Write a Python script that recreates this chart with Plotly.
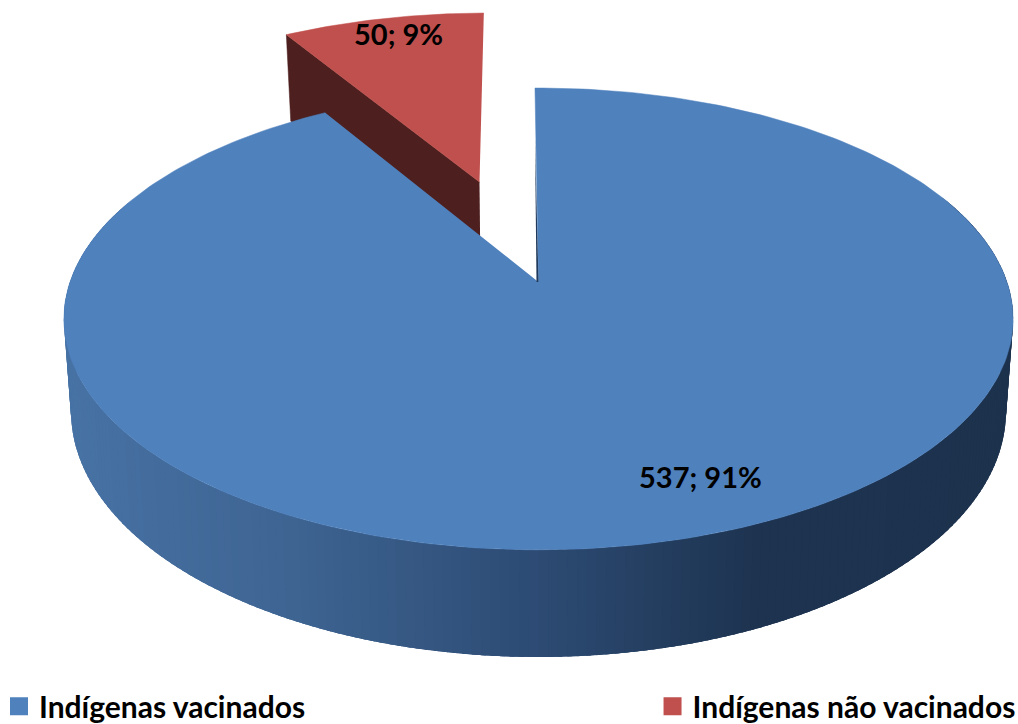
import numpy as np
import plotly.graph_objects as go

categories = ["Indígenas vacinados", "Indígenas não vacinados"]
values = [537, 50]
percent_labels = ["91%", "9%"]
top_colors = ["#4f81bd", "#c0504d"]
red_side_color = "#4d1f1e"

# projection of the flat pie disc onto the page (pixel axes)
CX, CY, A, B, K = 538.5, 282.0, 468.5, 225.0, 0.16
DEPTH = 90.0
TILT = -0.5
EXPLODE = 0.497
WALL_STOPS_X = [70, 300, 550, 750, 1010]
WALL_STOPS_RGB = [(72, 115, 165), (62, 100, 146), (44, 74, 114), (30, 52, 81), (29, 50, 77)]


def project(u, v, depth=0.0):
    u, v = np.asarray(u, float), np.asarray(v, float)
    w = 1 - K * v
    s = 1 - 0.015 * depth / DEPTH
    return CX + A * u * s / w, CY + (B * v + depth) / w


def rim(a0, a1, n, off=(0.0, 0.0)):
    t = np.radians(np.linspace(a0, a1, n))
    return np.sin(t) + off[0], -np.cos(t) + off[1]


total = sum(values)
blue_end = TILT + 360 * values[0] / total
red_start = blue_end - 360
red_mid = np.radians((red_start + TILT) / 2)
off = (EXPLODE * np.sin(red_mid), -EXPLODE * np.cos(red_mid))

fig = go.Figure()


def poly(x, y, color, width=0.0):
    fig.add_trace(go.Scatter(
        x=list(x), y=list(y), mode="lines", fill="toself", fillcolor=color,
        line=dict(color=color, width=width), hoverinfo="skip", showlegend=False,
    ))


# red slice: inner side then top
ru, rv = rim(red_start, TILT, 40, off)
ax0, ay0 = project(off[0], off[1])
ax1, ay1 = project(off[0], off[1], 105)
lx0, ly0 = project(ru[0], rv[0])
lx1, ly1 = project(ru[0], rv[0], 105)
poly([ax0, lx0, lx1, ax1], [ay0, ly0, ly1, ay1], red_side_color, 0.5)
rx, ry = project(ru, rv)
poly(np.r_[ax0, rx], np.r_[ay0, ry], top_colors[1], 0.5)

# blue outer wall as shaded strips, painted left to right so each overlaps the last
edges = np.linspace(292, 68, 225)
step = edges[0] - edges[1]
for a0 in edges[:-1]:
    u, v = rim(a0, a0 - 2.5 * step, 5)
    xt, yt = project(u, v)
    xb, yb = project(u[::-1], v[::-1], DEPTH)
    mid = project(np.sin(np.radians(a0 - step / 2)), -np.cos(np.radians(a0 - step / 2)), DEPTH)[0]
    rgb = [np.interp(mid, WALL_STOPS_X, [c[i] for c in WALL_STOPS_RGB]) for i in range(3)]
    col = "rgb(%d,%d,%d)" % tuple(rgb)
    poly(np.r_[xt, xb], np.r_[yt, yb], col, 0)

# blue top
bu, bv = rim(TILT, blue_end, 300)
bx, by = project(bu, bv)
poly(np.r_[CX, bx], np.r_[CY, by], top_colors[0], 0.5)

# thin dark edge of the notch
ex, ey = project(bu[0], bv[0])
poly([CX - 2, CX, ex], [CY, CY, ey + 50], "#1f3a5c", 0)

# legend entries, one legend box each
for i, (name, col) in enumerate(zip(categories, top_colors)):
    fig.add_trace(go.Scatter(
        x=[None], y=[None], mode="markers", name=name,
        legend="legend" if i == 0 else "legend2",
        marker=dict(symbol="square", size=16, color=col, line=dict(color=col, width=2)),
    ))

label_xy = [(700, 476), (398, 33)]
for val, pct, (lx, ly) in zip(values, percent_labels, label_xy):
    fig.add_annotation(x=lx, y=ly, text=f"<b>{val}; {pct}</b>", showarrow=False,
                       font=dict(family="Lato", size=29, color="#000000"))

legend_font = dict(family="Lato", size=30, weight="bold", color="#000000")
legend_common = dict(yanchor="middle", y=0.0245, xanchor="left",
                     itemsizing="trace", bgcolor="rgba(0,0,0,0)", font=legend_font)

fig.update_layout(
    width=1018, height=724, margin=dict(l=0, r=0, t=0, b=0, autoexpand=False),
    paper_bgcolor="white", plot_bgcolor="white",
    xaxis=dict(range=[0, 1018], visible=False, fixedrange=True),
    yaxis=dict(range=[724, 0], visible=False, fixedrange=True),
    font=dict(family="Lato", color="#000000"),
    legend=dict(x=-0.001, **legend_common),
    legend2=dict(x=0.641, **legend_common),
)
fig.write_html("out.html", config={"displayModeBar": False},
               post_script="document.body.style.margin='0';document.documentElement.style.overflow='hidden';")
